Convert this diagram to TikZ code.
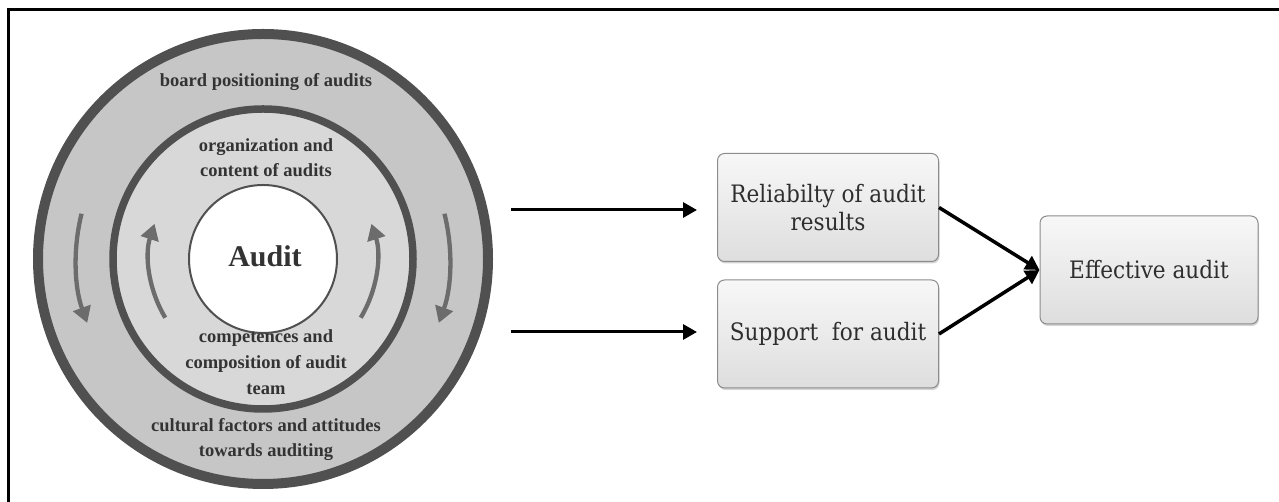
\documentclass[tikz,border=0pt]{standalone}
\usepackage{fontspec}
\setmainfont{Liberation Serif}
\newfontfamily\condserif{DejaVu Serif Condensed}
\usetikzlibrary{arrows.meta,shadows,calc}
\definecolor{ringdark}{HTML}{505050}
\definecolor{outerband}{HTML}{C6C6C6}
\definecolor{innerband}{HTML}{D8D8D8}
\definecolor{ctext}{HTML}{333333}
\definecolor{arrowgray}{HTML}{6C6C6C}
\definecolor{boxborder}{HTML}{8C8C8C}
\tikzset{
  ringtext/.style={anchor=base, font=\fontsize{18.5}{25}\selectfont\bfseries, text=ctext, inner sep=0pt},
  ringarrow/.style={draw=arrowgray, line width=4.3pt, -{Triangle[length=16pt,width=18pt]}},
  factorbox/.style={draw=boxborder, line width=1pt, rounded corners=7pt,
    top color=gray!6, bottom color=gray!26, minimum width=221pt, minimum height=108pt,
    align=center, font=\condserif\fontsize{24}{28}\selectfont, text=black!82,
    drop shadow={shadow xshift=1pt, shadow yshift=-2pt, opacity=0.35, fill=gray}},
  flow/.style={line width=3pt, -{Triangle[length=14pt,width=15pt]}},
}
\begin{document}
\begin{tikzpicture}[x=1pt,y=1pt]
\useasboundingbox (0,0) rectangle (1279,502);
% frame (cut at right and bottom)
\draw[line width=3pt] (8,0) -- (8,492) -- (1279,492);
% concentric circles
\coordinate (C) at (263,243);
\node[circle, draw=ringdark, line width=10pt, fill=outerband, minimum size=450pt, inner sep=0pt,
  circular drop shadow={shadow xshift=0pt, shadow yshift=-2pt, shadow scale=1.02, opacity=0.12, fill=gray}] (outer) at (C) {};
\node[circle, draw=ringdark, line width=7.5pt, fill=innerband, minimum size=300pt, inner sep=0pt] (inner) at (C) {};
\node[circle, draw=ringdark, line width=2pt, fill=white, minimum size=148pt, inner sep=0pt] (core) at (C) {};
% ring texts
\node[ringtext] (t1) at (266,415) {board positioning of audits};
\node[ringtext] (t2) at (266,350) {organization and};
\node[ringtext] (t3) at (266,325) {content of audits};
\node[anchor=base, inner sep=0pt, text=ctext, font=\fontsize{30}{32}\selectfont\bfseries] (ta) at (265,235) {Audit};
\node[ringtext] (t4) at (266,159) {competences and};
\node[ringtext] (t5) at (266,133) {composition of audit};
\node[ringtext] (t6) at (266,107) {team};
\node[ringtext] (t7) at (266,70) {cultural factors and attitudes};
\node[ringtext] (t8) at (266,45) {towards auditing};
% ring arrows
\draw[ringarrow] ([shift={(166:187)}]C) arc[start angle=166, end angle=200, radius=187];
\draw[ringarrow] ([shift={(14:187)}]C) arc[start angle=14, end angle=-20, radius=187];
\draw[ringarrow] ([shift={(211:114)}]C) arc[start angle=211, end angle=162, radius=114];
\draw[ringarrow] ([shift={(-31:114)}]C) arc[start angle=-31, end angle=18, radius=114];
% boxes
\node[factorbox] (b1) at (828,294.5) {Reliabilty of audit\\results};
\node[factorbox] (b2) at (828,168) {Support \ for audit};
\node[factorbox, minimum width=218pt] (b3) at (1149,232) {Effective audit};
% arrows
\coordinate (s1) at (511,292);
\coordinate (s2) at (511,170);
\draw[flow, shorten >=20pt] (s1) -- (s1 -| b1.west);
\draw[flow, shorten >=20pt] (s2) -- (s2 -| b2.west);
\draw[flow, line width=3.5pt] (b1.east) -- (b3.west);
\draw[flow, line width=3.5pt] (b2.east) -- (b3.west);
\end{tikzpicture}
\end{document}
